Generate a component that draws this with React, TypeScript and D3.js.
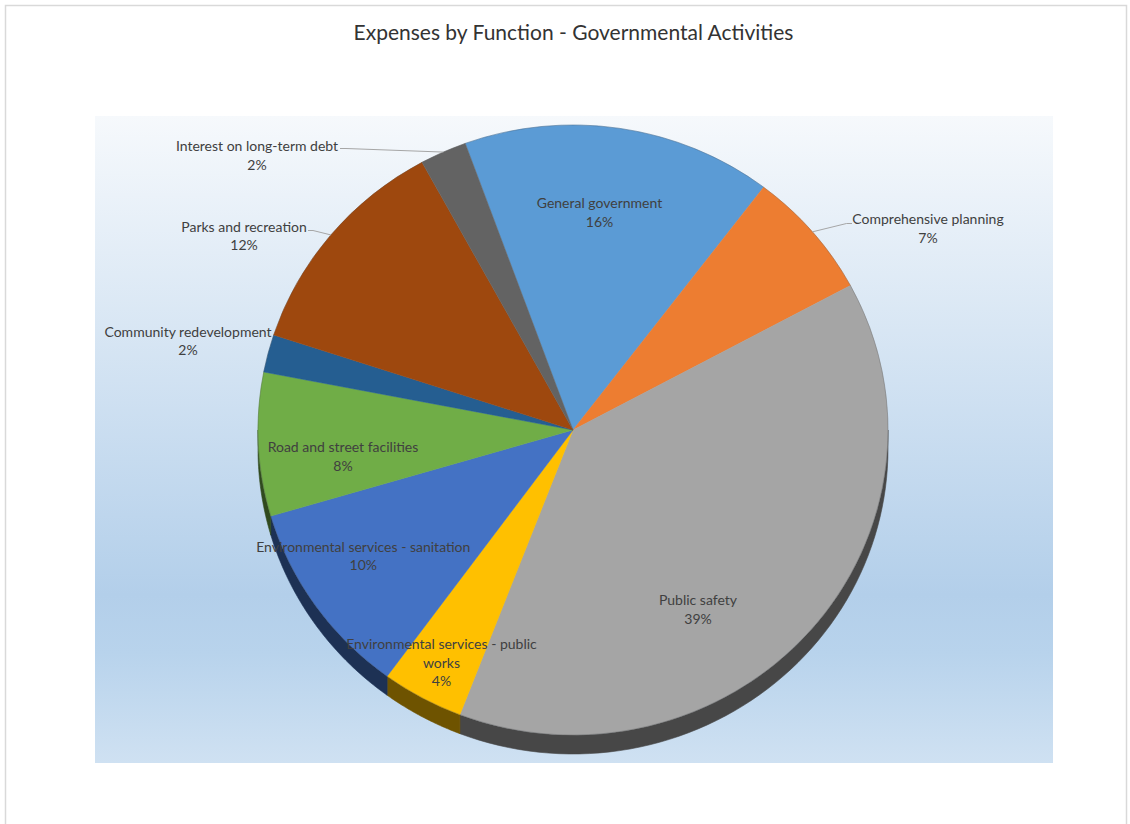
import React from "react";
import * as d3 from "d3";

// ---------- data ----------
const categories = [
  "General government",
  "Comprehensive planning",
  "Public safety",
  "Environmental services - public works",
  "Environmental services - sanitation",
  "Road and street facilities",
  "Community redevelopment",
  "Parks and recreation",
  "Interest on long-term debt",
];
const values = [15.9, 6.8, 38.7, 4.2, 10.4, 7.6, 2.0, 12.0, 2.4];
const colors = [
  "#5b9bd5",
  "#ed7d31",
  "#a5a5a5",
  "#ffc000",
  "#4472c4",
  "#70ad47",
  "#255e91",
  "#9e480e",
  "#636363",
];
const labelLines = [
  ["General government"],
  ["Comprehensive planning"],
  ["Public safety"],
  ["Environmental services - public", "works"],
  ["Environmental services - sanitation"],
  ["Road and street facilities"],
  ["Community redevelopment"],
  ["Parks and recreation"],
  ["Interest on long-term debt"],
];
const title = "Expenses by Function - Governmental Activities";

// ---------- layout ----------
const W = 1130;
const H = 824;
const cx = 573;
const cy = 430;
const rx = 315;
const ry = 305;
const depth = 19;
const firstSliceAngle = -20; // degrees
// label anchor (center x, first-line baseline) relative to pie center
const labelOffsets: [number, number][] = [
  [26.5, -222],
  [355, -206],
  [125, 175],
  [-131.5, 219],
  [-209.7, 121.5],
  [-230, 22],
  [-385, -93.5],
  [-329, -198.5],
  [-316, -279],
];
// leader lines: points on label side (absolute), rim point computed
const leaders: ({ pts: [number, number][] } | null)[] = [
  null,
  { pts: [[852, 223.5], [846.5, 223.5]] },
  null,
  null,
  null,
  null,
  null,
  { pts: [[308, 230.5], [313, 230.5]] },
  { pts: [[340, 148.5], [346, 148.5]] },
];
const lineHeight = 18.5;
const labelFont = 14;
const titleFont = 21;
const fontFamily = "Lato, 'Open Sans', sans-serif";
const textColor = "#404040";

function darken(c: string, k: number) {
  const rgb = d3.rgb(c);
  return d3.rgb(rgb.r * k, rgb.g * k, rgb.b * k).formatHex();
}

export default function App() {
  const toRad = (d: number) => (d * Math.PI) / 180;
  const pie = d3
    .pie<number>()
    .sort(null)
    .value((d) => d)
    .startAngle(toRad(firstSliceAngle))
    .endAngle(toRad(firstSliceAngle + 360));
  const arcs = pie(values);
  const total = d3.sum(values);
  const pct = d3.format(".0%");
  const arcGen = d3.arc<d3.PieArcDatum<number>>().innerRadius(0).outerRadius(rx);

  const rim = (t: number): [number, number] => [
    cx + rx * Math.sin(t),
    cy - ry * Math.cos(t),
  ];

  // side walls (front half only)
  const sides = arcs.map((a, i) => {
    const lo = Math.max(a.startAngle, Math.PI / 2);
    const hi = Math.min(a.endAngle, (3 * Math.PI) / 2);
    if (hi <= lo) return null;
    const n = 60;
    const top: [number, number][] = d3.range(n + 1).map((k) => rim(lo + ((hi - lo) * k) / n));
    const bottom = top.map(([x, y]) => [x, y + depth] as [number, number]).reverse();
    const d = d3.line()([...top, ...bottom]) + "Z";
    return <path key={"s" + i} d={d} fill={darken(colors[i], 0.43)} stroke={darken(colors[i], 0.43)} strokeWidth={0.6} />;
  });

  return (
    <svg
      width={W}
      height={H}
      style={{ position: "absolute", left: 0, top: 0, background: "#fff" }}
    >
      <defs>
        <linearGradient id="bg" x1="0" y1="0" x2="0" y2="1">
          <stop offset="0" stopColor="#f6f9fc" />
          <stop offset="0.74" stopColor="#b3cfea" />
          <stop offset="0.83" stopColor="#b8d3ec" />
          <stop offset="1" stopColor="#cfe1f2" />
        </linearGradient>
      </defs>
      <rect x={5.5} y={5.5} width={1121} height={840} fill="#fff" stroke="#d9d9d9" strokeWidth={1.5} />
      <rect x={95} y={116} width={958} height={647} fill="url(#bg)" />
      <text
        x={573.5}
        y={40}
        textAnchor="middle"
        fontFamily={fontFamily}
        fontSize={titleFont}
        fill="#333333"
      >
        {title}
      </text>
      <g>{sides}</g>
      <g transform={`translate(${cx},${cy}) scale(1,${ry / rx})`}>
        {arcs.map((a, i) => (
          <path key={"p" + i} d={arcGen(a) || ""} fill={colors[i]} stroke={colors[i]} strokeWidth={0.5} />
        ))}
      </g>
      <ellipse cx={cx} cy={cy} rx={rx} ry={ry} fill="none" stroke="rgba(60,60,60,0.25)" strokeWidth={1} />
      {arcs.map((a, i) => {
        const L = leaders[i];
        if (!L) return null;
        const mid = (a.startAngle + a.endAngle) / 2;
        const pts = [...L.pts, rim(mid)];
        return (
          <path key={"l" + i} d={d3.line()(pts) || ""} fill="none" stroke="#a6a6a6" strokeWidth={1} />
        );
      })}
      {arcs.map((a, i) => {
        const [dx, dy] = labelOffsets[i];
        const lines = [...labelLines[i], pct(values[i] / total)];
        return (
          <text
            key={"t" + i}
            x={cx + dx}
            y={cy + dy}
            textAnchor="middle"
            fontFamily={fontFamily}
            fontSize={labelFont}
            fill={textColor}
          >
            {lines.map((ln, k) => (
              <tspan key={k} x={cx + dx} dy={k === 0 ? 0 : lineHeight}>
                {ln}
              </tspan>
            ))}
          </text>
        );
      })}
    </svg>
  );
}
